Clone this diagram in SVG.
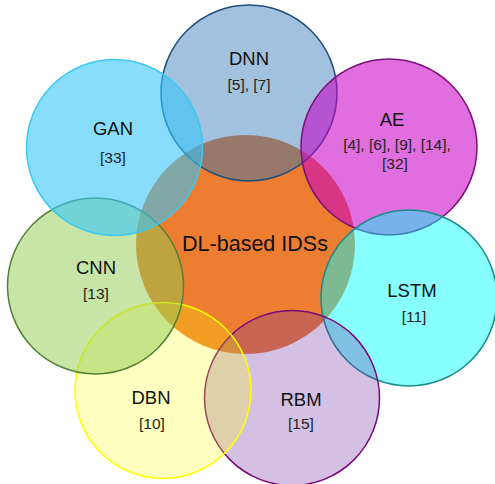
<svg xmlns="http://www.w3.org/2000/svg" width="495" height="484" viewBox="0 0 495 484">
<style>
.c{stroke-width:1.5}
.n{font-family:"Liberation Sans",Arial,sans-serif;font-size:18.5px;fill:#111;text-anchor:middle}
.r{font-family:"Liberation Sans",Arial,sans-serif;font-size:15.5px;fill:#222;text-anchor:middle}
.m{font-family:"Liberation Sans",Arial,sans-serif;font-size:21.5px;fill:#111;text-anchor:middle}
</style>
<rect width="495" height="484" fill="#fff"/>
<g id="center"><circle cx="245.5" cy="244.5" r="109.5" fill="#ED7D31"/></g>
<g id="dnn"><circle class="c" cx="249" cy="93" r="88" fill="#2E75B6" fill-opacity="0.45" stroke="#1F4E79"/></g>
<g id="ae"><circle class="c" cx="389" cy="147" r="88" fill="#C800C5" fill-opacity="0.57" stroke="#7A107A"/></g>
<g id="lstm"><circle class="c" cx="409" cy="298" r="88" fill="#00FFFF" fill-opacity="0.47" stroke="#1A8A8A"/></g>
<g id="rbm"><circle class="c" cx="292" cy="398" r="87.5" fill="#7030A0" fill-opacity="0.3" stroke="#7A0A7A"/></g>
<g id="dbn"><circle class="c" cx="163" cy="390.5" r="88" fill="#FFFF00" fill-opacity="0.25" stroke="#FFFF00"/></g>
<g id="cnn"><circle class="c" cx="95.5" cy="286" r="88" fill="#8FCC50" fill-opacity="0.5" stroke="#548235"/></g>
<g id="gan"><circle class="c" cx="114.5" cy="147.5" r="88" fill="#34C5FA" fill-opacity="0.59" stroke="#3CC8F0"/></g>
<g id="connectors"></g>
<g id="labels">
<text class="m" x="255" y="251">DL-based IDSs</text>
<text class="n" x="249" y="65">DNN</text>
<text class="r" x="249" y="90">[5], [7]</text>
<text class="n" x="113" y="135">GAN</text>
<text class="r" x="113" y="163">[33]</text>
<text class="n" x="392" y="126">AE</text>
<text class="r" x="397" y="150">[4], [6], [9], [14],</text>
<text class="r" x="395" y="169">[32]</text>
<text class="n" x="96" y="274">CNN</text>
<text class="r" x="96" y="299">[13]</text>
<text class="n" x="412" y="297">LSTM</text>
<text class="r" x="414" y="322">[11]</text>
<text class="n" x="151" y="404">DBN</text>
<text class="r" x="152" y="429">[10]</text>
<text class="n" x="301" y="406">RBM</text>
<text class="r" x="301" y="429">[15]</text>
</g>
</svg>
